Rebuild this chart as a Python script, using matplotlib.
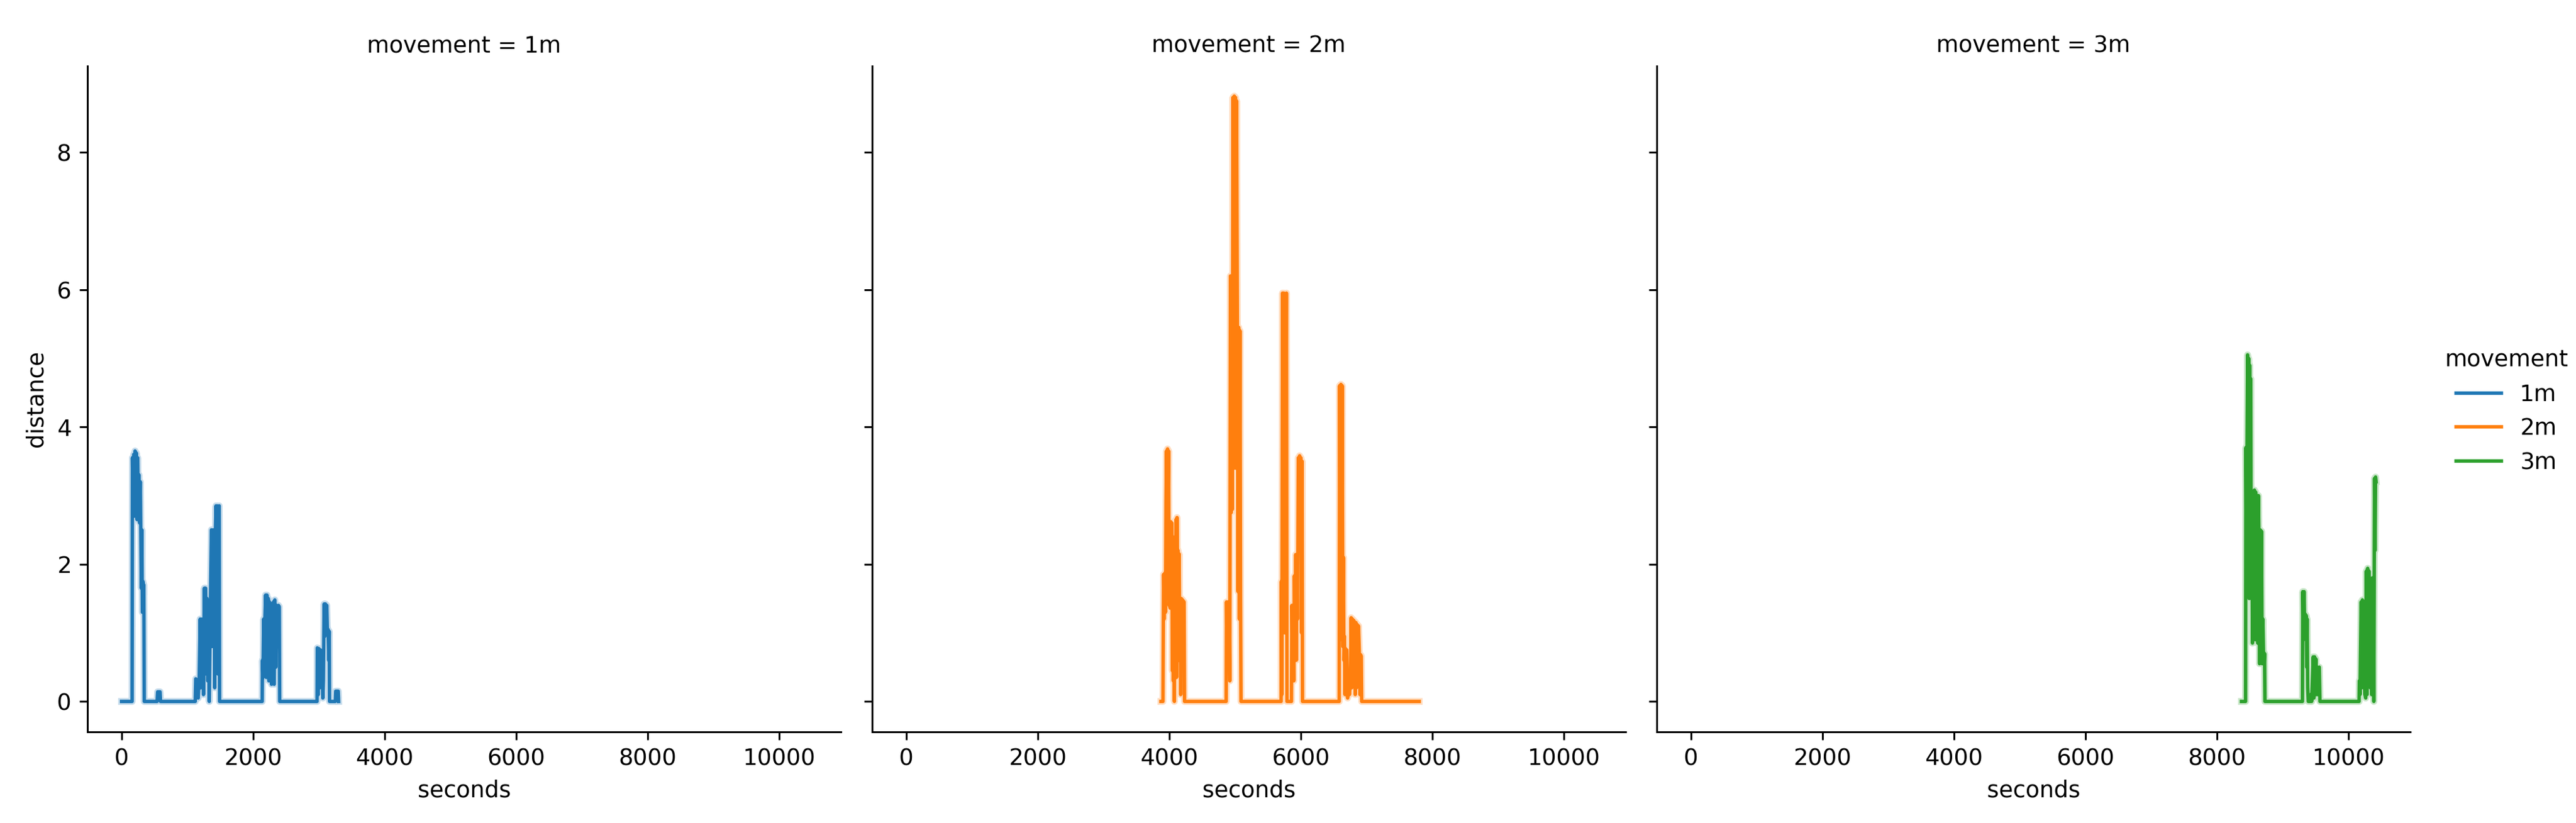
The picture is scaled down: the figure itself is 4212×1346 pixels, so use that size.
import matplotlib.pyplot as plt

movements = ["1m", "2m", "3m"]
colors = ["#1f77b4", "#ff7f0e", "#2ca02c"]

# readings per movement (seconds, distance)
sec_1m = [0, 160, 165, 175, 185, 195, 205, 215, 225, 235, 245, 255, 265, 275, 285, 292, 300, 308, 316, 324, 332, 338, 345,
          540, 548, 585, 592,
          1120, 1128, 1150, 1165, 1180, 1195, 1205, 1215, 1225, 1235, 1245, 1258, 1268, 1278, 1288, 1298, 1310, 1320, 1333,
          1345, 1366, 1376, 1386, 1396, 1406, 1416, 1426, 1436, 1446, 1456, 1466, 1476, 1484, 1490,
          2138, 2142, 2150, 2160, 2170, 2180, 2190, 2200, 2210, 2220, 2230, 2240, 2250, 2260, 2270, 2280, 2290, 2300, 2310,
          2320, 2330, 2345, 2355, 2370, 2385, 2398, 2404,
          2972, 2976, 2990, 3000, 3012, 3024, 3036, 3048, 3060, 3068, 3080, 3090, 3100, 3110, 3120, 3130, 3140, 3150, 3158, 3162,
          3250, 3256, 3294, 3300]
dist_1m = [0, 0, 3.55, 2.9, 3.6, 2.7, 3.65, 3.1, 3.62, 2.65, 3.55, 2.8, 3.3, 2.6, 3.2, 2.45, 1.65, 2.5, 1.3, 1.75, 1.55, 1.7, 0,
           0, 0.14, 0.14, 0,
           0, 0.33, 0.3, 0.05, 0.33, 1.2, 0.2, 1.2, 0.5, 1.15, 0.1, 1.65, 0.4, 1.65, 0.9, 1.5, 0.3, 1.1, 0,
           1.0, 2.5, 0.8, 2.5, 1.2, 2.5, 0.2, 2.45, 2.85, 1.0, 2.85, 0.4, 2.8, 2.85, 0,
           0, 0.6, 0.35, 1.2, 0.5, 1.22, 1.55, 0.35, 1.55, 0.9, 1.5, 0.3, 1.45, 0.6, 1.3, 0.25, 1.3, 0.3, 1.45,
           0.25, 1.48, 0.5, 1.4, 0.8, 1.4, 1.38, 0,
           0, 0.78, 0.1, 0.77, 0.2, 0.75, 0.3, 0.7, 0.05, 0.3, 1.42, 0.95, 1.42, 1.0, 1.4, 1.0, 1.05, 0.6, 1.02, 0,
           0, 0.15, 0.15, 0]

sec_2m = [3873, 3904, 3913, 3922, 3932, 3942, 3950, 3958, 3966, 3974, 3982, 3990, 3998, 4006, 4014, 4022, 4030, 4040,
          4046, 4054, 4062, 4070, 4078, 4086, 4094, 4102, 4110, 4118, 4126, 4134, 4142, 4150, 4158, 4166, 4174, 4182,
          4200, 4225, 4232,
          4865, 4870, 4880, 4890, 4900, 4910, 4920, 4930, 4940, 4950, 4960, 4968, 4978, 4988, 4998, 5008, 5016, 5024,
          5036, 5046, 5056, 5066, 5076, 5084, 5091,
          5701, 5705, 5712, 5722, 5732, 5742, 5752, 5762, 5772, 5782, 5790, 5858, 5864, 5874, 5884, 5894, 5902, 5912,
          5922, 5932, 5942, 5950, 5962, 5972, 5982, 5992, 6002, 6012, 6020, 6026,
          6584, 6590, 6600, 6610, 6620, 6630, 6640, 6648, 6656, 6664, 6672, 6680, 6690, 6700, 6712, 6724, 6740, 6755,
          6766, 6776, 6786, 6796, 6806, 6818, 6828, 6838, 6848, 6858, 6868, 6878, 6890, 6900, 6910, 6920, 6926,
          7800]
dist_2m = [0, 0, 1.85, 1.2, 1.87, 1.3, 2.9, 3.65, 1.5, 3.68, 2.9, 3.65, 1.4, 2.6, 1.36, 2.62, 1.6, 2.6,
           0.45, 2.3, 0.3, 2.35, 0, 2.4, 1.0, 2.65, 0.35, 2.68, 1.5, 2.2, 0.6, 2.15, 1.0, 1.5, 0.1, 1.5,
           1.48, 1.45, 0,
           0, 1.45, 0.5, 1.45, 0.95, 1.4, 0.3, 6.2, 2.75, 6.15, 2.8, 8.8, 4.5, 8.82, 3.4, 8.8, 3.4, 8.75,
           5.45, 1.6, 5.45, 1.2, 5.4, 1.5, 0,
           0, 1.75, 0.1, 5.95, 2.0, 5.95, 1.0, 5.9, 3.0, 5.95, 0, 0, 1.4, 0.5, 1.4, 0.3, 1.83, 0.8,
           2.14, 0.6, 2.1, 1.2, 3.55, 2.6, 3.58, 2.6, 3.55, 1.0, 3.5, 0,
           0, 4.6, 0.9, 4.62, 1.0, 4.6, 0.8, 2.1, 0.6, 0.95, 0.1, 0.77, 0.25, 0.75, 0.05, 0.3, 0.1, 0.3,
           1.22, 0.2, 1.2, 0.3, 1.18, 1.15, 0.1, 1.15, 0.2, 1.12, 0.4, 1.1, 0.7, 0.1, 0.68, 0.66, 0,
           0]

sec_3m = [8373, 8435, 8440, 8450, 8458, 8466, 8474, 8482, 8490, 8498, 8506, 8514, 8522, 8530, 8540, 8550, 8560, 8570,
          8580, 8590, 8600, 8610, 8620, 8630, 8638, 8648, 8658, 8668, 8678, 8688, 8698, 8708, 8718, 8724, 8730,
          9300, 9305, 9315, 9325, 9335, 9345, 9352, 9358, 9365, 9372, 9380, 9389, 9420, 9426, 9440, 9464, 9474, 9484,
          9494, 9504, 9514, 9526, 9540, 9556, 9566,
          10161, 10165, 10175, 10192, 10202, 10212, 10222, 10232, 10242, 10250, 10262, 10272, 10282, 10292, 10302,
          10312, 10322, 10332, 10342, 10352, 10362, 10370, 10378, 10386, 10396, 10404, 10412, 10420]
dist_3m = [0, 0, 3.7, 2.0, 3.75, 5.05, 2.0, 5.0, 1.5, 4.9, 2.5, 4.7, 1.5, 3.05, 0.85, 3.05, 1.0, 3.08,
           0.9, 3.05, 1.2, 3.0, 0.85, 3.0, 2.5, 0.55, 2.5, 0.6, 2.48, 0.55, 1.2, 0.7, 0.55, 0.7, 0,
           0, 1.6, 0.9, 1.6, 1.0, 1.27, 0.95, 1.25, 0.5, 1.2, 0.2, 0, 0, 0.1, 0, 0.65, 0.05, 0.65,
           0.2, 0.62, 0.1, 0.5, 0.1, 0.5, 0,
           0, 0.3, 0.1, 1.45, 0.2, 1.48, 0.55, 1.45, 0.3, 0.1, 0.05, 1.9, 0.1, 1.94, 1.0,
           1.9, 1.07, 0.2, 1.07, 0.1, 1.8, 0.4, 1.8, 0, 3.25, 2.2, 3.27, 3.2]

series = [(sec_1m, dist_1m), (sec_2m, dist_2m), (sec_3m, dist_3m)]

dpi = 269.2
fig, axes = plt.subplots(1, 3, figsize=(4212 / dpi, 1346 / dpi), dpi=dpi, sharex=True, sharey=True)
fig.subplots_adjust(left=0.0339, right=0.9357, bottom=0.1109, top=0.92, wspace=0.0409)

handles = []
for ax, name, col, (s, d) in zip(axes, movements, colors, series):
    # faint band under the line, like the ci shading
    ax.plot(s, d, color=col, lw=3.0, alpha=0.25)
    line, = ax.plot(s, d, color=col, lw=1.5, label=name)
    handles.append(line)
    ax.set_title(f"movement = {name}", fontsize=10)
    ax.set_xlabel("seconds")
    ax.spines["top"].set_visible(False)
    ax.spines["right"].set_visible(False)

axes[0].set_ylabel("distance")
axes[0].set_xticks([0, 2000, 4000, 6000, 8000, 10000])
axes[0].set_yticks([0, 2, 4, 6, 8])

fig.legend(handles=handles, labels=movements, title="movement", frameon=False,
           loc="center left", bbox_to_anchor=(0.941, 0.5))

fig.savefig("out.png", dpi=dpi)
